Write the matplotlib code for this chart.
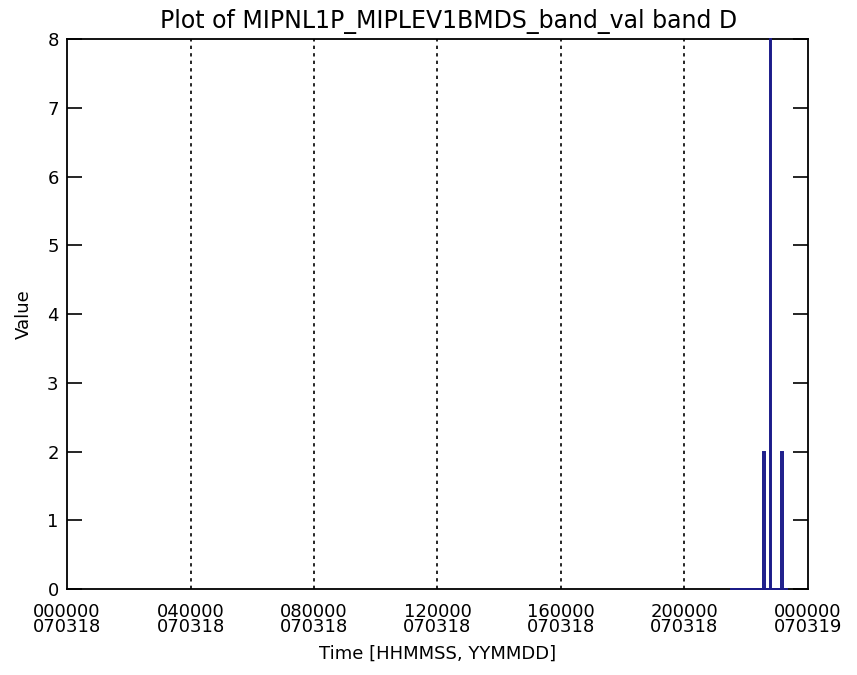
import matplotlib
matplotlib.use("Agg")
import matplotlib.pyplot as plt
import numpy as np

# Data (seconds since 2007-03-18 00:00:00)
times = [77400, 81190, 81190, 81420, 81420, 81930, 81930, 82070, 82070,
         83250, 83250, 83480, 83480, 83950]
values = [0, 0, 2, 2, 0, 0, 8, 8, 0, 0, 2, 2, 0, 0]

xtick_pos = [0, 14400, 28800, 43200, 57600, 72000, 86400]
xtick_labels = ["000000\n070318", "040000\n070318", "080000\n070318",
                "120000\n070318", "160000\n070318", "200000\n070318",
                "000000\n070319"]
yticks = [0, 1, 2, 3, 4, 5, 6, 7, 8]

fig = plt.figure(figsize=(8.57, 6.75), dpi=100)
ax = fig.add_axes([0.0782, 0.1274, 0.8646, 0.8148])

ax.plot(times, values, color="#1c1c8a", linewidth=1.4, solid_joinstyle="miter",
        zorder=4, clip_on=False)

ax.set_xlim(0, 86400)
ax.set_ylim(0, 8)

for xp in xtick_pos[1:-1]:
    ax.axvline(xp, color="black", linewidth=1.2, linestyle=(0, (2, 2.5)))

ax.set_xticks(xtick_pos)
ax.set_xticklabels(xtick_labels, fontsize=13, linespacing=0.8)
ax.tick_params(axis="x", length=0, pad=10)
ax.set_yticks(yticks)
ax.set_yticklabels([str(v) for v in yticks], fontsize=13)
ax.tick_params(axis="y", direction="in", length=11, width=1.2,
               right=True, left=True, pad=6)

for s in ax.spines.values():
    s.set_linewidth(1.3)

ax.set_title("Plot of MIPNL1P_MIPLEV1BMDS_band_val band D", fontsize=17,
             pad=8, x=0.515)
ax.set_xlabel("Time [HHMMSS, YYMMDD]", fontsize=13, labelpad=6)
ax.set_ylabel("Value", fontsize=13, labelpad=10)

fig.savefig("out.png", dpi=100)
